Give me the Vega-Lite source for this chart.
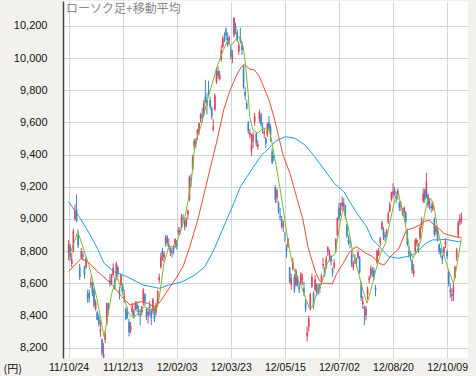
{
"$schema": "https://vega.github.io/schema/vega-lite/v6.json",
"width": 405, "height": 357,
"autosize": {"type": "none"},
"padding": {"left": 63, "top": 1, "right": 8, "bottom": 18},
"background": "#f2f1ee",
"config": {"view": {"stroke": null, "fill": "white"},
 "axisY": {"grid": true, "gridColor": "#cdd5e0", "domain": true, "domainColor": "#444444", "domainWidth": 1.5, "ticks": false,
    "labelPadding": 16, "labelFont": "Liberation Sans", "labelFontSize": 11, "labelColor": "#111111", "labelOverlap": false,
    "titleAngle": 0, "titleX": -60, "titleY": 368, "titleAlign": "left", "titleBaseline": "middle",
    "titleFont": "Noto Sans CJK JP", "titleFontSize": 11, "titleFontWeight": "normal", "titleColor": "#111111"}},
"title": {"text": "ローソク足+移動平均", "anchor": "start", "frame": "group", "orient": "top", "offset": -15, "dx": 3, "fontSize": 12, "fontWeight": "normal", "color": "#888888", "font": "Noto Sans CJK JP"},
"datasets": {
"candles": [
{"i":0,"o":8790,"h":8870,"l":8745,"c":8843},{"i":1,"o":8830,"h":8845,"l":8740,"c":8762},{"i":2,"o":8720,"h":8790,"l":8700,"c":8748},{"i":3,"o":8800,"h":8940,"l":8790,"c":8926},{"i":4,"o":9000,"h":9090,"l":8990,"c":9050},{"i":5,"o":9060,"h":9152,"l":8980,"c":8988},{"i":6,"o":8900,"h":8935,"l":8820,"c":8835},{"i":7,"o":8700,"h":8720,"l":8620,"c":8640},{"i":8,"o":8760,"h":8820,"l":8750,"c":8801},{"i":9,"o":8780,"h":8800,"l":8740,"c":8767},
{"i":10,"o":8700,"h":8710,"l":8630,"c":8655},{"i":11,"o":8700,"h":8765,"l":8690,"c":8755},{"i":12,"o":8540,"h":8560,"l":8480,"c":8500},{"i":13,"o":8540,"h":8560,"l":8480,"c":8514},{"i":14,"o":8590,"h":8640,"l":8570,"c":8603},{"i":15,"o":8600,"h":8610,"l":8520,"c":8541},{"i":16,"o":8560,"h":8570,"l":8450,"c":8463},{"i":17,"o":8440,"h":8500,"l":8430,"c":8479},{"i":18,"o":8420,"h":8430,"l":8370,"c":8374},{"i":19,"o":8390,"h":8410,"l":8330,"c":8348},
{"i":20,"o":8300,"h":8372,"l":8268,"c":8314},{"i":21,"o":8250,"h":8260,"l":8150,"c":8165},{"i":22,"o":8140,"h":8228,"l":8136,"c":8160},{"i":23,"o":8250,"h":8300,"l":8230,"c":8287},{"i":24,"o":8350,"h":8480,"l":8340,"c":8477},{"i":25,"o":8470,"h":8480,"l":8400,"c":8434},{"i":26,"o":8620,"h":8660,"l":8580,"c":8597},{"i":27,"o":8600,"h":8660,"l":8590,"c":8643},{"i":28,"o":8650,"h":8725,"l":8640,"c":8695},{"i":29,"o":8620,"h":8640,"l":8560,"c":8575},
{"i":30,"o":8640,"h":8735,"l":8620,"c":8722},{"i":31,"o":8700,"h":8710,"l":8640,"c":8664},{"i":32,"o":8560,"h":8580,"l":8500,"c":8536},{"i":33,"o":8590,"h":8660,"l":8580,"c":8653},{"i":34,"o":8580,"h":8600,"l":8530,"c":8552},{"i":35,"o":8500,"h":8560,"l":8480,"c":8519},{"i":36,"o":8440,"h":8450,"l":8370,"c":8377},{"i":37,"o":8420,"h":8450,"l":8380,"c":8401},{"i":38,"o":8360,"h":8380,"l":8270,"c":8296},{"i":39,"o":8310,"h":8360,"l":8290,"c":8336},
{"i":40,"o":8420,"h":8480,"l":8400,"c":8459},{"i":41,"o":8430,"h":8440,"l":8380,"c":8395},{"i":42,"o":8440,"h":8490,"l":8430,"c":8479},{"i":43,"o":8470,"h":8490,"l":8420,"c":8440},{"i":44,"o":8430,"h":8460,"l":8400,"c":8423},{"i":45,"o":8410,"h":8440,"l":8340,"c":8398},{"i":46,"o":8420,"h":8460,"l":8400,"c":8455},{"i":47,"o":8480,"h":8570,"l":8460,"c":8560},{"i":48,"o":8530,"h":8540,"l":8460,"c":8488},{"i":49,"o":8440,"h":8450,"l":8370,"c":8390},
{"i":50,"o":8400,"h":8450,"l":8350,"c":8422},{"i":51,"o":8460,"h":8490,"l":8400,"c":8448},{"i":52,"o":8430,"h":8440,"l":8340,"c":8385},{"i":53,"o":8430,"h":8510,"l":8410,"c":8500},{"i":54,"o":8440,"h":8450,"l":8360,"c":8378},{"i":55,"o":8420,"h":8480,"l":8400,"c":8466},{"i":56,"o":8470,"h":8560,"l":8450,"c":8550},{"i":57,"o":8620,"h":8660,"l":8600,"c":8639},{"i":58,"o":8700,"h":8790,"l":8690,"c":8766},{"i":59,"o":8800,"h":8820,"l":8740,"c":8765},
{"i":60,"o":8760,"h":8800,"l":8730,"c":8785},{"i":61,"o":8850,"h":8900,"l":8830,"c":8883},{"i":62,"o":8890,"h":8900,"l":8830,"c":8849},{"i":63,"o":8830,"h":8880,"l":8810,"c":8841},{"i":64,"o":8820,"h":8830,"l":8770,"c":8793},{"i":65,"o":8790,"h":8820,"l":8760,"c":8802},{"i":66,"o":8830,"h":8840,"l":8780,"c":8809},{"i":67,"o":8840,"h":8880,"l":8820,"c":8876},{"i":68,"o":8860,"h":8870,"l":8810,"c":8831},{"i":69,"o":8920,"h":8950,"l":8900,"c":8929},
{"i":70,"o":8930,"h":8950,"l":8900,"c":8917},{"i":71,"o":8950,"h":9030,"l":8940,"c":9015},{"i":72,"o":9010,"h":9030,"l":8980,"c":9002},{"i":73,"o":8990,"h":9000,"l":8930,"c":8947},{"i":74,"o":8960,"h":9010,"l":8950,"c":8999},{"i":75,"o":9030,"h":9060,"l":9000,"c":9052},{"i":76,"o":9120,"h":9270,"l":9110,"c":9260},{"i":77,"o":9250,"h":9280,"l":9200,"c":9238},{"i":78,"o":9310,"h":9400,"l":9300,"c":9384},{"i":79,"o":9450,"h":9500,"l":9430,"c":9485},
{"i":80,"o":9490,"h":9500,"l":9440,"c":9463},{"i":81,"o":9520,"h":9560,"l":9490,"c":9554},{"i":82,"o":9540,"h":9600,"l":9520,"c":9595},{"i":83,"o":9620,"h":9660,"l":9600,"c":9647},{"i":84,"o":9650,"h":9690,"l":9600,"c":9633},{"i":85,"o":9650,"h":9740,"l":9640,"c":9722},{"i":86,"o":9760,"h":9866,"l":9720,"c":9723},{"i":87,"o":9740,"h":9780,"l":9650,"c":9707},{"i":88,"o":9790,"h":9860,"l":9760,"c":9777},{"i":89,"o":9740,"h":9760,"l":9680,"c":9698},
{"i":90,"o":9690,"h":9700,"l":9620,"c":9637},{"i":91,"o":9555,"h":9620,"l":9545,"c":9576},{"i":92,"o":9680,"h":9780,"l":9670,"c":9768},{"i":93,"o":9850,"h":9940,"l":9840,"c":9929},{"i":94,"o":9920,"h":9950,"l":9870,"c":9889},{"i":95,"o":9870,"h":9920,"l":9860,"c":9899},{"i":96,"o":9990,"h":10080,"l":9980,"c":10050},{"i":97,"o":10070,"h":10140,"l":10060,"c":10123},{"i":98,"o":10130,"h":10160,"l":10100,"c":10129},{"i":99,"o":10180,"h":10190,"l":10110,"c":10141},
{"i":100,"o":10130,"h":10160,"l":10070,"c":10086},{"i":101,"o":10110,"h":10140,"l":10080,"c":10127},{"i":102,"o":10050,"h":10080,"l":9990,"c":10011},{"i":103,"o":10000,"h":10050,"l":9970,"c":10018},{"i":104,"o":10140,"h":10255,"l":10130,"c":10250},{"i":105,"o":10200,"h":10220,"l":10150,"c":10182},{"i":106,"o":10160,"h":10180,"l":10100,"c":10114},{"i":107,"o":10040,"h":10100,"l":10020,"c":10083},{"i":108,"o":10130,"h":10190,"l":10090,"c":10109},{"i":109,"o":10080,"h":10100,"l":10020,"c":10050},
{"i":110,"o":9950,"h":9960,"l":9810,"c":9819},{"i":111,"o":9790,"h":9820,"l":9740,"c":9767},{"i":112,"o":9720,"h":9740,"l":9680,"c":9688},{"i":113,"o":9600,"h":9610,"l":9530,"c":9546},{"i":114,"o":9520,"h":9560,"l":9500,"c":9538},{"i":115,"o":9420,"h":9530,"l":9390,"c":9458},{"i":116,"o":9480,"h":9540,"l":9440,"c":9524},{"i":117,"o":9600,"h":9660,"l":9580,"c":9637},{"i":118,"o":9530,"h":9540,"l":9450,"c":9470},{"i":119,"o":9450,"h":9490,"l":9430,"c":9464},
{"i":120,"o":9620,"h":9680,"l":9600,"c":9667},{"i":121,"o":9650,"h":9660,"l":9570,"c":9588},{"i":122,"o":9570,"h":9600,"l":9530,"c":9561},{"i":123,"o":9530,"h":9560,"l":9500,"c":9542},{"i":124,"o":9500,"h":9510,"l":9440,"c":9468},{"i":125,"o":9520,"h":9600,"l":9510,"c":9590},{"i":126,"o":9600,"h":9640,"l":9550,"c":9561},{"i":127,"o":9570,"h":9590,"l":9480,"c":9520},{"i":128,"o":9420,"h":9440,"l":9340,"c":9350},{"i":129,"o":9390,"h":9400,"l":9360,"c":9380},
{"i":130,"o":9200,"h":9210,"l":9100,"c":9119},{"i":131,"o":9130,"h":9190,"l":9100,"c":9181},{"i":132,"o":9100,"h":9110,"l":9030,"c":9045},{"i":133,"o":9020,"h":9070,"l":8990,"c":9009},{"i":134,"o":9000,"h":9020,"l":8940,"c":8953},{"i":135,"o":8950,"h":8990,"l":8920,"c":8973},{"i":136,"o":8905,"h":8920,"l":8860,"c":8900},{"i":137,"o":8820,"h":8840,"l":8760,"c":8801},{"i":138,"o":8830,"h":8880,"l":8820,"c":8876},{"i":139,"o":8700,"h":8700,"l":8600,"c":8611},
{"i":140,"o":8590,"h":8660,"l":8560,"c":8633},{"i":141,"o":8690,"h":8760,"l":8680,"c":8729},{"i":142,"o":8640,"h":8660,"l":8540,"c":8556},{"i":143,"o":8590,"h":8690,"l":8580,"c":8680},{"i":144,"o":8640,"h":8650,"l":8580,"c":8593},{"i":145,"o":8580,"h":8600,"l":8540,"c":8563},{"i":146,"o":8600,"h":8670,"l":8590,"c":8657},{"i":147,"o":8620,"h":8660,"l":8590,"c":8633},{"i":148,"o":8570,"h":8610,"l":8520,"c":8542},{"i":149,"o":8480,"h":8500,"l":8420,"c":8440},
{"i":150,"o":8270,"h":8330,"l":8238,"c":8295},{"i":151,"o":8330,"h":8400,"l":8300,"c":8383},{"i":152,"o":8440,"h":8540,"l":8430,"c":8533},{"i":153,"o":8580,"h":8660,"l":8570,"c":8639},{"i":154,"o":8540,"h":8550,"l":8440,"c":8459},{"i":155,"o":8560,"h":8650,"l":8550,"c":8624},{"i":156,"o":8590,"h":8600,"l":8520,"c":8536},{"i":157,"o":8560,"h":8600,"l":8530,"c":8568},{"i":158,"o":8580,"h":8600,"l":8540,"c":8568},{"i":159,"o":8610,"h":8660,"l":8590,"c":8647},
{"i":160,"o":8710,"h":8760,"l":8690,"c":8721},{"i":161,"o":8690,"h":8700,"l":8640,"c":8655},{"i":162,"o":8700,"h":8770,"l":8690,"c":8752},{"i":163,"o":8800,"h":8830,"l":8770,"c":8824},{"i":164,"o":8780,"h":8810,"l":8740,"c":8798},{"i":165,"o":8770,"h":8780,"l":8710,"c":8734},{"i":166,"o":8690,"h":8700,"l":8640,"c":8663},{"i":167,"o":8700,"h":8750,"l":8690,"c":8730},{"i":168,"o":8800,"h":8880,"l":8790,"c":8874},{"i":169,"o":8900,"h":9010,"l":8890,"c":9006},
{"i":170,"o":9070,"h":9100,"l":8990,"c":9003},{"i":171,"o":9050,"h":9100,"l":9020,"c":9066},{"i":172,"o":9080,"h":9140,"l":9060,"c":9104},{"i":173,"o":9100,"h":9130,"l":9050,"c":9079},{"i":174,"o":9080,"h":9090,"l":9000,"c":9020},{"i":175,"o":8960,"h":8970,"l":8880,"c":8896},{"i":176,"o":8870,"h":8900,"l":8840,"c":8857},{"i":177,"o":8860,"h":8880,"l":8820,"c":8851},{"i":178,"o":8780,"h":8800,"l":8700,"c":8720},{"i":179,"o":8700,"h":8740,"l":8680,"c":8724},
{"i":180,"o":8740,"h":8780,"l":8720,"c":8755},{"i":181,"o":8740,"h":8760,"l":8700,"c":8726},{"i":182,"o":8760,"h":8810,"l":8750,"c":8795},{"i":183,"o":8760,"h":8770,"l":8660,"c":8669},{"i":184,"o":8600,"h":8610,"l":8490,"c":8508},{"i":185,"o":8470,"h":8520,"l":8440,"c":8488},{"i":186,"o":8455,"h":8460,"l":8340,"c":8443},{"i":187,"o":8400,"h":8460,"l":8370,"c":8443},{"i":188,"o":8530,"h":8580,"l":8500,"c":8566},{"i":189,"o":8620,"h":8650,"l":8600,"c":8635},
{"i":190,"o":8650,"h":8710,"l":8630,"c":8695},{"i":191,"o":8680,"h":8700,"l":8640,"c":8666},{"i":192,"o":8680,"h":8700,"l":8620,"c":8640},{"i":193,"o":8570,"h":8590,"l":8520,"c":8555},{"i":194,"o":8730,"h":8810,"l":8720,"c":8803},{"i":195,"o":8780,"h":8820,"l":8770,"c":8804},{"i":196,"o":8850,"h":8890,"l":8830,"c":8881},{"i":197,"o":8940,"h":8990,"l":8930,"c":8978},{"i":198,"o":8940,"h":8950,"l":8870,"c":8891},{"i":199,"o":8900,"h":8920,"l":8860,"c":8885},
{"i":200,"o":8910,"h":8940,"l":8890,"c":8929},{"i":201,"o":8980,"h":9050,"l":8970,"c":9033},{"i":202,"o":9050,"h":9110,"l":9040,"c":9092},{"i":203,"o":9120,"h":9170,"l":9110,"c":9163},{"i":204,"o":9150,"h":9222,"l":9130,"c":9171},{"i":205,"o":9180,"h":9200,"l":9140,"c":9156},{"i":206,"o":9140,"h":9170,"l":9100,"c":9131},{"i":207,"o":9150,"h":9190,"l":9120,"c":9178},{"i":208,"o":9100,"h":9110,"l":9050,"c":9070},{"i":209,"o":9080,"h":9110,"l":9050,"c":9085},
{"i":210,"o":9060,"h":9070,"l":9020,"c":9033},{"i":211,"o":9040,"h":9080,"l":9010,"c":9069},{"i":212,"o":9040,"h":9050,"l":8970,"c":8983},{"i":213,"o":8920,"h":8930,"l":8830,"c":8839},{"i":214,"o":8800,"h":8830,"l":8760,"c":8783},{"i":215,"o":8780,"h":8800,"l":8740,"c":8775},{"i":216,"o":8740,"h":8750,"l":8660,"c":8679},{"i":217,"o":8660,"h":8720,"l":8640,"c":8680},{"i":218,"o":8800,"h":8880,"l":8790,"c":8871},{"i":219,"o":8850,"h":8880,"l":8830,"c":8869},
{"i":220,"o":8840,"h":8850,"l":8790,"c":8807},{"i":221,"o":8880,"h":8960,"l":8870,"c":8948},{"i":222,"o":8960,"h":9010,"l":8940,"c":8995},{"i":223,"o":9110,"h":9190,"l":9100,"c":9159},{"i":224,"o":9180,"h":9190,"l":9100,"c":9123},{"i":225,"o":9140,"h":9288,"l":9130,"c":9232},{"i":226,"o":9150,"h":9160,"l":9070,"c":9086},{"i":227,"o":9100,"h":9130,"l":9060,"c":9110},{"i":228,"o":9080,"h":9100,"l":9040,"c":9069},{"i":229,"o":9060,"h":9110,"l":9050,"c":9091},
{"i":230,"o":9000,"h":9010,"l":8890,"c":8906},{"i":231,"o":8920,"h":8960,"l":8900,"c":8949},{"i":232,"o":8930,"h":8950,"l":8860,"c":8870},{"i":233,"o":8840,"h":8850,"l":8780,"c":8797},{"i":234,"o":8810,"h":8820,"l":8760,"c":8786},{"i":235,"o":8770,"h":8780,"l":8720,"c":8746},{"i":236,"o":8790,"h":8830,"l":8770,"c":8824},{"i":237,"o":8840,"h":8880,"l":8820,"c":8863},{"i":238,"o":8800,"h":8810,"l":8750,"c":8769},{"i":239,"o":8670,"h":8680,"l":8580,"c":8596},
{"i":240,"o":8560,"h":8600,"l":8510,"c":8546},{"i":241,"o":8520,"h":8570,"l":8490,"c":8534},{"i":242,"o":8540,"h":8600,"l":8490,"c":8577},{"i":243,"o":8640,"h":8710,"l":8630,"c":8701},{"i":244,"o":8760,"h":8820,"l":8740,"c":8807},{"i":245,"o":8900,"h":8990,"l":8880,"c":8982},{"i":246,"o":8980,"h":9030,"l":8960,"c":9002},{"i":247,"o":8990,"h":9040,"l":8970,"c":9010}
],
"ma": [
{"s":"b","i":0,"v":9108},{"s":"b","i":8,"v":8994},{"s":"b","i":14.2,"v":8890},{"s":"b","i":18.2,"v":8815},{"s":"b","i":22.3,"v":8725},{"s":"b","i":28.4,"v":8673},{"s":"b","i":36.6,"v":8642},{"s":"b","i":46.8,"v":8590},{"s":"b","i":57.1,"v":8569},{"s":"b","i":63.2,"v":8590},{"s":"b","i":71.4,"v":8610},{"s":"b","i":79.5,"v":8652},{"s":"b","i":85.7,"v":8704},{"s":"b","i":91,"v":8800},{"s":"b","i":95.3,"v":8900},{"s":"b","i":99.6,"v":9000},{"s":"b","i":104,"v":9100},{"s":"b","i":108,"v":9200},{"s":"b","i":112,"v":9260},{"s":"b","i":116,"v":9320},{"s":"b","i":121.6,"v":9400},{"s":"b","i":126,"v":9440},{"s":"b","i":130.3,"v":9485},{"s":"b","i":136.4,"v":9512},{"s":"b","i":142.5,"v":9501},{"s":"b","i":148.6,"v":9460},{"s":"b","i":154.7,"v":9388},{"s":"b","i":160.9,"v":9305},{"s":"b","i":167,"v":9222},{"s":"b","i":173.1,"v":9170},{"s":"b","i":176.2,"v":9118},{"s":"b","i":181.3,"v":9035},{"s":"b","i":187.4,"v":8952},{"s":"b","i":191.1,"v":8870},{"s":"b","i":193.6,"v":8849},{"s":"b","i":197.2,"v":8808},{"s":"b","i":201.3,"v":8766},{"s":"b","i":207.5,"v":8756},{"s":"b","i":212.4,"v":8766},{"s":"b","i":216.5,"v":8777},{"s":"b","i":220.5,"v":8808},{"s":"b","i":224.6,"v":8849},{"s":"b","i":228.8,"v":8870},{"s":"b","i":232.8,"v":8870},{"s":"b","i":236.9,"v":8874},{"s":"b","i":241,"v":8866},{"s":"b","i":245.1,"v":8859},{"s":"b","i":247,"v":8859},
{"s":"r","i":0,"v":8673},{"s":"r","i":8,"v":8756},{"s":"r","i":13.1,"v":8725},{"s":"r","i":18.2,"v":8673},{"s":"r","i":24.3,"v":8621},{"s":"r","i":28.4,"v":8579},{"s":"r","i":33.5,"v":8517},{"s":"r","i":38.7,"v":8465},{"s":"r","i":45.6,"v":8486},{"s":"r","i":49.7,"v":8476},{"s":"r","i":53.8,"v":8455},{"s":"r","i":56.8,"v":8476},{"s":"r","i":59.9,"v":8520},{"s":"r","i":64,"v":8580},{"s":"r","i":68.1,"v":8640},{"s":"r","i":72.2,"v":8710},{"s":"r","i":76.3,"v":8830},{"s":"r","i":81.2,"v":8994},{"s":"r","i":85.3,"v":9160},{"s":"r","i":89.3,"v":9325},{"s":"r","i":93.4,"v":9491},{"s":"r","i":97.5,"v":9678},{"s":"r","i":101.6,"v":9802},{"s":"r","i":105.7,"v":9895},{"s":"r","i":108.7,"v":9947},{"s":"r","i":110.8,"v":9958},{"s":"r","i":113.9,"v":9932},{"s":"r","i":116.9,"v":9926},{"s":"r","i":120,"v":9885},{"s":"r","i":123,"v":9812},{"s":"r","i":126,"v":9740},{"s":"r","i":129.1,"v":9636},{"s":"r","i":132.1,"v":9512},{"s":"r","i":135.1,"v":9388},{"s":"r","i":139.2,"v":9284},{"s":"r","i":143.3,"v":9139},{"s":"r","i":147.4,"v":8994},{"s":"r","i":150.5,"v":8828},{"s":"r","i":153.5,"v":8725},{"s":"r","i":155.6,"v":8662},{"s":"r","i":157.6,"v":8621},{"s":"r","i":159.7,"v":8600},{"s":"r","i":162.7,"v":8600},{"s":"r","i":165.8,"v":8596},{"s":"r","i":168.6,"v":8662},{"s":"r","i":172.7,"v":8725},{"s":"r","i":176.8,"v":8797},{"s":"r","i":180.9,"v":8828},{"s":"r","i":184,"v":8808},{"s":"r","i":187,"v":8787},{"s":"r","i":191.1,"v":8766},{"s":"r","i":195.2,"v":8725},{"s":"r","i":198.3,"v":8714},{"s":"r","i":202.4,"v":8766},{"s":"r","i":205.5,"v":8797},{"s":"r","i":207.5,"v":8812},{"s":"r","i":212.4,"v":8932},{"s":"r","i":216.5,"v":8942},{"s":"r","i":220.6,"v":8963},{"s":"r","i":223.6,"v":8983},{"s":"r","i":226.7,"v":8994},{"s":"r","i":229.8,"v":8963},{"s":"r","i":232.8,"v":8942},{"s":"r","i":235.9,"v":8911},{"s":"r","i":238.9,"v":8901},{"s":"r","i":243,"v":8890},{"s":"r","i":247,"v":8886},
{"s":"g","i":0,"v":8758},{"s":"g","i":5.8,"v":8921},{"s":"g","i":13.1,"v":8704},{"s":"g","i":18,"v":8497},{"s":"g","i":22.3,"v":8268},{"s":"g","i":27.2,"v":8540},{"s":"g","i":30.3,"v":8642},{"s":"g","i":33.4,"v":8559},{"s":"g","i":37.6,"v":8416},{"s":"g","i":40.7,"v":8385},{"s":"g","i":47.6,"v":8455},{"s":"g","i":50.7,"v":8434},{"s":"g","i":52.8,"v":8445},{"s":"g","i":54.8,"v":8424},{"s":"g","i":56.8,"v":8497},{"s":"g","i":59.9,"v":8720},{"s":"g","i":63,"v":8828},{"s":"g","i":67,"v":8828},{"s":"g","i":70.1,"v":8911},{"s":"g","i":73.2,"v":9015},{"s":"g","i":75.2,"v":9118},{"s":"g","i":77.3,"v":9243},{"s":"g","i":79.3,"v":9450},{"s":"g","i":81.4,"v":9533},{"s":"g","i":83.2,"v":9574},{"s":"g","i":87.3,"v":9740},{"s":"g","i":90.4,"v":9844},{"s":"g","i":93.4,"v":9947},{"s":"g","i":96.5,"v":10030},{"s":"g","i":99.6,"v":10103},{"s":"g","i":102.6,"v":10082},{"s":"g","i":105.7,"v":10123},{"s":"g","i":107.7,"v":10134},{"s":"g","i":109.8,"v":10071},{"s":"g","i":111.4,"v":9947},{"s":"g","i":112.9,"v":9782},{"s":"g","i":113.9,"v":9636},{"s":"g","i":115.9,"v":9553},{"s":"g","i":119,"v":9533},{"s":"g","i":122.1,"v":9564},{"s":"g","i":126,"v":9564},{"s":"g","i":128,"v":9471},{"s":"g","i":131,"v":9305},{"s":"g","i":134.1,"v":9118},{"s":"g","i":137.2,"v":8911},{"s":"g","i":140.2,"v":8745},{"s":"g","i":143.3,"v":8642},{"s":"g","i":146.4,"v":8579},{"s":"g","i":149.4,"v":8497},{"s":"g","i":151.5,"v":8445},{"s":"g","i":153.5,"v":8455},{"s":"g","i":156.6,"v":8559},{"s":"g","i":159.7,"v":8621},{"s":"g","i":162.7,"v":8725},{"s":"g","i":164.7,"v":8756},{"s":"g","i":167.6,"v":8787},{"s":"g","i":170.7,"v":8973},{"s":"g","i":172.7,"v":9067},{"s":"g","i":175.8,"v":8952},{"s":"g","i":178.8,"v":8787},{"s":"g","i":181.9,"v":8683},{"s":"g","i":185,"v":8559},{"s":"g","i":187.7,"v":8476},{"s":"g","i":190.1,"v":8559},{"s":"g","i":193.2,"v":8683},{"s":"g","i":196.3,"v":8787},{"s":"g","i":199.3,"v":8849},{"s":"g","i":202.4,"v":8994},{"s":"g","i":205.5,"v":9139},{"s":"g","i":207.5,"v":9160},{"s":"g","i":208.3,"v":9118},{"s":"g","i":210.4,"v":9035},{"s":"g","i":212.4,"v":8932},{"s":"g","i":214.4,"v":8808},{"s":"g","i":216.5,"v":8756},{"s":"g","i":218.5,"v":8787},{"s":"g","i":221.6,"v":8870},{"s":"g","i":223.6,"v":9015},{"s":"g","i":225.7,"v":9118},{"s":"g","i":227.7,"v":9129},{"s":"g","i":229.8,"v":9077},{"s":"g","i":231.8,"v":8952},{"s":"g","i":234.9,"v":8808},{"s":"g","i":238.9,"v":8683},{"s":"g","i":242,"v":8600},{"s":"g","i":244.1,"v":8704},{"s":"g","i":246.1,"v":8828},{"s":"g","i":247,"v":8880}
]
},
"encoding": {
"x": {"field": "i", "type": "quantitative",
 "scale": {"domain": [-0.37, 248], "nice": false, "zero": false},
 "axis": {"values": [0,34,68,102,136,170,204,238],
  "labelExpr": "['11/10/24','11/12/13','12/02/03','12/03/23','12/05/15','12/07/02','12/08/20','12/10/09'][datum.value/34]",
  "title": null, "grid": true, "gridColor": "#cdd5e0", "domain": false, "ticks": false,
  "labelFont": "Liberation Sans", "labelFontSize": 10.5, "labelColor": "#111111", "labelPadding": 4, "labelFlush": false, "labelOverlap": false}}
},
"layer": [
{"data": {"name": "candles"}, "mark": {"type": "rule", "strokeWidth": 1, "clip": true},
 "encoding": {
  "y": {"field": "l", "type": "quantitative",
   "scale": {"domain": [8136, 10355], "nice": false, "zero": false},
   "axis": {"values": [8200,8400,8600,8800,9000,9200,9400,9600,9800,10000,10200], "format": ",d", "title": "(円)"}},
  "y2": {"field": "h"},
  "color": {"condition": {"test": "datum.c >= datum.o", "value": "#e0435c"}, "value": "#3a86c8"}
 }},
{"data": {"name": "candles"}, "mark": {"type": "bar", "size": 1.6, "clip": true},
 "encoding": {
  "y": {"field": "o", "type": "quantitative",
   "axis": {"values": [8200,8400,8600,8800,9000,9200,9400,9600,9800,10000,10200], "format": ",d", "title": "(円)"}},
  "y2": {"field": "c"},
  "color": {"condition": {"test": "datum.c >= datum.o", "value": "#e0435c"}, "value": "#3a86c8"}
 }},
{"data": {"name": "ma"}, "mark": {"type": "line", "strokeWidth": 1, "clip": true},
 "encoding": {
  "y": {"field": "v", "type": "quantitative",
   "axis": {"values": [8200,8400,8600,8800,9000,9200,9400,9600,9800,10000,10200], "format": ",d", "title": "(円)"}},
  "color": {"field": "s", "type": "nominal", "scale": {"domain": ["b","r","g"], "range": ["#1aa0dc","#f04a30","#7cba2a"]}, "legend": null}
 }}
]
}
